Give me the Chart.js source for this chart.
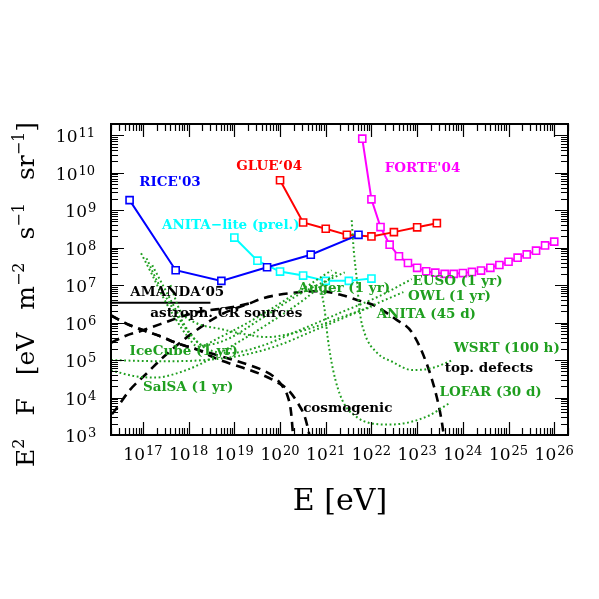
<!DOCTYPE html>
<html>
<head>
<meta charset="utf-8">
<script src="https://cdn.jsdelivr.net/npm/chart.js@4.4.0/dist/chart.umd.min.js"></script>
<style>
  html, body { margin: 0; padding: 0; background: #fff; }
</style>
</head>
<body>
<canvas id="chart" width="599" height="599"></canvas>
<script>
// ---------- data (E in eV, E^2 F in eV m^-2 s^-1 sr^-1) ----------
const riceE = [5.1e16, 5.2e17, 5.2e18, 5.2e19, 4.7e20, 5.2e21];
const riceF = [1.86e9, 2.5e7, 1.3e7, 3.0e7, 6.5e7, 2.2e8];

const glueE = [1e20, 3.2e20, 1e21, 2.9e21, 1e22, 3.1e22, 1e23, 2.7e23];
const glueF = [6.3e9, 4.7e8, 3.2e8, 2.2e8, 2.0e8, 2.6e8, 3.5e8, 4.5e8];

const aliteE = [1e19, 3.2e19, 1e20, 3.2e20, 1e21, 3.2e21, 1e22];
const aliteF = [1.86e8, 4.5e7, 2.3e7, 1.8e7, 1.3e7, 1.3e7, 1.5e7];

const forteE = [6.3e21, 1e22, 1.58e22, 2.5e22, 4e22, 6.3e22, 1e23, 1.58e23, 2.5e23, 4e23, 6.3e23,
                1e24, 1.58e24, 2.5e24, 4e24, 6.3e24, 1e25, 1.58e25, 2.5e25, 4e25, 6.3e25, 1e26];
const forteF = [8.1e10, 1.95e9, 3.55e8, 1.2e8, 5.9e7, 3.9e7, 2.9e7, 2.35e7, 2.15e7, 2.0e7, 2.0e7,
                2.1e7, 2.25e7, 2.45e7, 2.9e7, 3.45e7, 4.2e7, 5.4e7, 6.6e7, 8.3e7, 1.15e8, 1.45e8];

const amandaE = [2.0e16, 3e18];
const amandaF = [3.4e6, 3.4e6];

// model fluxes (dashed)
const tdE = [2.1e16, 2.5e16, 5.2e16, 1.23e17, 3.1e17, 1.07e18, 4.9e18, 2.2e19, 4.3e19, 8.5e19, 1.9e20,
             7.4e20, 2.3e21, 4.8e21, 1.07e22, 3.5e22, 7.6e22, 1.6e23, 2.7e23, 3.5e23, 3.9e23];
const tdF = [3.6e3, 4.7e3, 1.6e4, 4.5e4, 1.35e5, 4.7e5, 1.6e6, 3.3e6, 4.5e6, 5.4e6, 6.2e6,
             6.9e6, 5.4e6, 4.0e6, 3.0e6, 1.2e6, 5.6e5, 8.3e4, 1.0e4, 2.1e3, 8e2];
const crE = [2.0e16, 4.1e16, 8.7e16, 2.4e17, 1.26e18, 9.3e18, 2.8e19];
const crF = [2.9e5, 4.4e5, 5.9e5, 9.1e5, 1.8e6, 2.6e6, 3.5e6];
const cosmo1E = [2.0e16, 5.2e16, 1.0e17, 2.4e17, 5.6e17, 1.55e18, 4.2e18, 1.55e19, 3.6e19, 7.1e19,
                 1.1e20, 1.5e20, 1.74e20, 1.95e20];
const cosmo1F = [1.55e6, 8.5e5, 6.3e5, 4.3e5, 2.8e5, 1.9e5, 1.35e5, 8.3e4, 5.8e4, 3.7e4,
                 2.1e4, 1.0e4, 4.1e3, 8e2];
const cosmo2E = [2.0e16, 5.2e16, 1.0e17, 2.4e17, 5.6e17, 1.55e18, 4.2e18, 1.55e19, 3.6e19, 7.8e19,
                 1.5e20, 2.45e20, 3.5e20, 4.6e20];
const cosmo2F = [1.55e6, 8.5e5, 6.3e5, 4.3e5, 2.8e5, 1.9e5, 1.07e5, 6.2e4, 4.3e4, 2.75e4,
                 1.6e4, 7.1e3, 3.0e3, 8e2];

// projected sensitivities (dotted)
const icecubeE = [2.0e16, 2.4e17, 2.3e18, 1.3e19, 7.8e19, 5.8e20, 4.4e21, 1.95e22, 5.0e22];
const icecubeF = [1.0e5, 9.3e4, 1.0e5, 1.3e5, 2.3e5, 6.3e5, 1.8e6, 4.0e6, 6.5e6];
const salsaE = [2.0e16, 6.8e16, 1.9e17, 5.1e17, 1.8e18, 1.05e19, 6.0e19, 3.5e20, 1.8e21];
const salsaF = [5.3e4, 3.7e4, 3.4e4, 4.3e4, 7.8e4, 2.7e5, 1.0e6, 4.3e6, 2.3e7];
const augerE = [9.1e16, 1.6e17, 2.75e17, 5.1e17, 9.3e17, 1.6e18, 4.9e18, 2.9e19, 2.1e20, 1.35e21];
const augerF = [7.1e7, 1.86e7, 4.8e6, 1.3e6, 4.4e5, 2.3e5, 4.1e5, 1.3e6, 5.8e6, 2.5e7];
const augerBE = [1.6e17, 3.1e17, 5.9e17, 1.07e18, 2.1e18, 6.3e18, 3.6e19, 2.7e20, 2.6e21];
const augerBF = [3.4e7, 7.4e6, 1.7e6, 5.2e5, 2.5e5, 3.4e5, 1.2e6, 5.8e6, 2.2e7];
const eusoE = [1.2e17, 2.1e17, 4.4e17, 9.8e17, 2.3e18, 8.1e18, 3.6e19, 2.7e20, 2.0e21, 1.5e22, 7.6e22];
const eusoF = [5.2e7, 1.2e7, 2.5e6, 5.6e5, 2.1e5, 1.55e5, 2.3e5, 6.3e5, 1.8e6, 5.1e6, 1.45e7];
const anitaE = [4.0e17, 6.5e17, 1.4e18, 4.9e18, 1.7e19, 5.1e19, 1.9e20, 7.4e20, 3.0e21, 1.0e22];
const anitaF = [1.0e7, 2.1e6, 1.0e6, 6.8e5, 4.9e5, 4.1e5, 5.2e5, 8.5e5, 1.6e6, 2.6e6];
const wsrtE = [3.7e21, 4.1e21, 4.8e21, 5.5e21, 7.1e21, 1.3e22, 2.9e22, 7.9e22, 2.2e23, 6.0e23];
const wsrtF = [5.4e8, 8.5e7, 1.35e7, 2.1e6, 5.2e5, 1.6e5, 8.9e4, 5.4e4, 6.2e4, 1.0e5];
const lofarE = [8.1e20, 9.5e20, 1.1e21, 1.45e21, 2.3e21, 4.8e21, 9.1e21, 2.5e22, 6.9e22, 1.9e23, 5.1e23];
const lofarF = [6.5e6, 2.1e6, 4.1e5, 5.4e4, 8.5e3, 3.0e3, 2.1e3, 1.9e3, 2.2e3, 3.4e3, 7.1e3];

// axes
const xTickExps = [17, 18, 19, 20, 21, 22, 23, 24, 25, 26];
const yTickExps = [3, 4, 5, 6, 7, 8, 9, 10, 11];

const BLUE = '#0000ff', RED = '#ff0000', CYAN = '#00ffff', MAGENTA = '#ff00ff';
const GREEN = '#1f9f1f', BLACK = '#000000';

// text labels, placed in data coordinates
const notes = [
  { text: "RICE'03", x: 8.3e16, y: 5.4e9, color: BLUE },
  { text: "GLUE\u201804", x: 1.1e19, y: 1.5e10, color: RED },
  { text: "ANITA\u2212lite (prel.)", x: 2.6e17, y: 4.0e8, color: CYAN },
  { text: "FORTE'04", x: 1.95e22, y: 1.3e10, color: MAGENTA },
  { text: "AMANDA\u201805", x: 5.3e16, y: 6.5e6, color: BLACK },
  { text: "astroph. CR sources", x: 1.45e17, y: 1.7e6, color: BLACK },
  { text: "IceCube (1 yr)", x: 5.1e16, y: 1.67e5, color: GREEN },
  { text: "SalSA (1 yr)", x: 1e17, y: 1.8e4, color: GREEN },
  { text: "Auger (1 yr)", x: 2.5e20, y: 8.1e6, color: GREEN },
  { text: "cosmogenic", x: 3.2e20, y: 5.1e3, color: BLACK },
  { text: "EUSO (1 yr)", x: 7.9e22, y: 1.23e7, color: GREEN },
  { text: "OWL (1 yr)", x: 6.3e22, y: 5.1e6, color: GREEN },
  { text: "ANITA (45 d)", x: 1.3e22, y: 1.66e6, color: GREEN },
  { text: "WSRT (100 h)", x: 6.3e23, y: 2.0e5, color: GREEN },
  { text: "top. defects", x: 4.0e23, y: 6.0e4, color: BLACK },
  { text: "LOFAR (30 d)", x: 3.1e23, y: 1.35e4, color: GREEN }
];

function pts(xs, ys) { return xs.map((x, i) => ({ x: x, y: ys[i] })); }

function limit(xs, ys, color) {
  return {
    data: pts(xs, ys), borderColor: color, borderWidth: 2, tension: 0,
    pointStyle: 'rect', pointRadius: 5, pointBorderWidth: 1.6,
    pointBorderColor: color, pointBackgroundColor: '#fff'
  };
}
function dotted(xs, ys) {
  return {
    data: pts(xs, ys), borderColor: GREEN, borderWidth: 2, borderDash: [1.8, 2.6],
    pointRadius: 0, cubicInterpolationMode: 'monotone'
  };
}
function dashed(xs, ys) {
  return {
    data: pts(xs, ys), borderColor: BLACK, borderWidth: 2.6, borderDash: [9, 6],
    pointRadius: 0, cubicInterpolationMode: 'monotone'
  };
}

// ---------- frame, ticks, titles, labels ----------
const FONT = '"DejaVu Serif", "Liberation Serif", serif';

function drawPower(ctx, exp, right, baseline) {
  ctx.textAlign = 'right';
  ctx.font = '17px ' + FONT;
  ctx.fillText('10', right, baseline);
  ctx.textAlign = 'left';
  ctx.font = '13px ' + FONT;
  ctx.fillText(String(exp), right + 1, baseline - 5);
}

const decor = {
  id: 'decor',
  afterDatasetsDraw(chart) {
    const { ctx, scales: { x, y } } = chart;
    ctx.save();
    ctx.textBaseline = 'middle';
    ctx.textAlign = 'left';
    ctx.font = 'bold 13.5px ' + FONT;
    notes.forEach(n => {
      ctx.fillStyle = n.color;
      ctx.fillText(n.text, x.getPixelForValue(n.x), y.getPixelForValue(n.y));
    });
    ctx.restore();
  },
  afterDraw(chart) {
    const { ctx, chartArea: a, scales: { x, y } } = chart;
    ctx.save();
    ctx.strokeStyle = BLACK;
    ctx.fillStyle = BLACK;

    // minor / major ticks, inward on all four sides
    ctx.lineWidth = 1.2;
    ctx.beginPath();
    for (let d = 16; d <= 26; d++) {
      for (let k = 1; k <= 9; k++) {
        const v = k * Math.pow(10, d);
        if (v < x.min || v > x.max) continue;
        const px = Math.round(x.getPixelForValue(v)) + 0.5;
        const len = k === 1 ? 13 : 7;
        ctx.moveTo(px, a.bottom); ctx.lineTo(px, a.bottom - len);
        ctx.moveTo(px, a.top); ctx.lineTo(px, a.top + len);
      }
    }
    for (let d = 3; d <= 11; d++) {
      for (let k = 1; k <= 9; k++) {
        const v = k * Math.pow(10, d);
        if (v < y.min || v > y.max) continue;
        const py = Math.round(y.getPixelForValue(v)) + 0.5;
        const len = k === 1 ? 13 : 7;
        ctx.moveTo(a.left, py); ctx.lineTo(a.left + len, py);
        ctx.moveTo(a.right, py); ctx.lineTo(a.right - len, py);
      }
    }
    ctx.stroke();

    ctx.lineWidth = 2;
    ctx.strokeRect(a.left, a.top, a.right - a.left, a.bottom - a.top);

    // tick labels
    ctx.textBaseline = 'alphabetic';
    xTickExps.forEach(e => {
      const px = x.getPixelForValue(Math.pow(10, e));
      drawPower(ctx, e, px + 2, a.bottom + 25);
    });
    yTickExps.forEach(e => {
      const py = y.getPixelForValue(Math.pow(10, e));
      const n = String(e).length;
      drawPower(ctx, e, 96.5 - 9.5 * n, py + 7);
    });

    // x title
    ctx.textAlign = 'center';
    ctx.font = '30px ' + FONT;
    ctx.fillText('E [eV]', 340, 510);

    // y title, rotated, with superscripts
    const segs = [
      ['E', 0], ['2', 1], null, ['F', 0], null, ['[eV', 0], null,
      ['m', 0], ['\u22122', 1], null, ['s', 0], ['\u22121', 1], null,
      ['sr', 0], ['\u22121', 1], [']', 0]
    ];
    const baseFont = '25px ' + FONT, supFont = '16px ' + FONT;
    let textW = 0, gaps = 0;
    segs.forEach(s => {
      if (!s) { gaps++; return; }
      ctx.font = s[1] ? supFont : baseFont;
      textW += ctx.measureText(s[0]).width;
    });
    const total = 345, gap = (total - textW) / gaps;
    ctx.translate(34, 0);
    ctx.rotate(-Math.PI / 2);
    ctx.textAlign = 'left';
    let u = -467;
    segs.forEach(s => {
      if (!s) { u += gap; return; }
      ctx.font = s[1] ? supFont : baseFont;
      ctx.fillText(s[0], u, s[1] ? -10 : 0);
      u += ctx.measureText(s[0]).width;
    });
    ctx.restore();
  }
};

new Chart(document.getElementById('chart'), {
  type: 'line',
  data: {
    datasets: [
      dotted(icecubeE, icecubeF),
      dotted(salsaE, salsaF),
      dotted(augerE, augerF),
      dotted(augerBE, augerBF),
      dotted(eusoE, eusoF),
      dotted(anitaE, anitaF),
      dotted(wsrtE, wsrtF),
      dotted(lofarE, lofarF),
      dashed(tdE, tdF),
      dashed(crE, crF),
      dashed(cosmo1E, cosmo1F),
      dashed(cosmo2E, cosmo2F),
      { data: pts(amandaE, amandaF), borderColor: BLACK, borderWidth: 2, pointRadius: 0 },
      limit(riceE, riceF, BLUE),
      limit(aliteE, aliteF, CYAN),
      limit(glueE, glueF, RED),
      limit(forteE, forteF, MAGENTA)
    ]
  },
  options: {
    responsive: false,
    animation: false,
    layout: { padding: { top: 124, right: 31, left: 0, bottom: 0 } },
    plugins: { legend: { display: false }, tooltip: { enabled: false } },
    scales: {
      x: {
        type: 'logarithmic', min: 2e16, max: 2e26,
        grid: { display: false }, border: { display: false },
        ticks: { display: false },
        afterFit: s => { s.height = 164; }
      },
      y: {
        type: 'logarithmic', min: 1e3, max: 2e11,
        grid: { display: false }, border: { display: false },
        ticks: { display: false },
        afterFit: s => { s.width = 111; }
      }
    }
  },
  plugins: [decor]
});
</script>
</body>
</html>
